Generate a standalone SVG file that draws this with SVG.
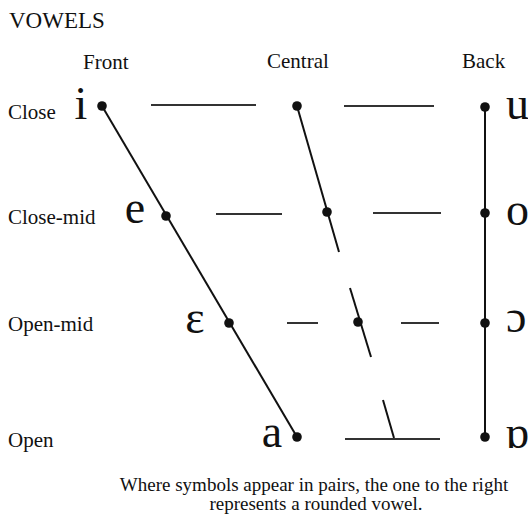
<svg xmlns="http://www.w3.org/2000/svg" width="528" height="517" viewBox="0 0 528 517">
<style>
text{font-family:"Liberation Serif","Times New Roman",serif;fill:#111}
.lbl{font-size:21px}
.sym{font-size:46px}
.note{font-size:19px}
.dot{fill:#111}
.link{stroke:#111;stroke-width:2;fill:none}
.hl{stroke:#333;stroke-width:2;fill:none}
</style>
<rect width="528" height="517" fill="#fff"/>
<text x="9" y="28" style="font-size:23px">VOWELS</text>
<g id="headers" class="lbl">
<text x="83" y="69" class="lbl">Front</text>
<text x="267" y="68" class="lbl">Central</text>
<text x="462" y="68" class="lbl">Back</text>
</g>
<g id="rows">
<text x="8" y="119" class="lbl">Close</text>
<text x="8" y="224" class="lbl">Close-mid</text>
<text x="8" y="331" class="lbl">Open-mid</text>
<text x="8" y="447" class="lbl">Open</text>
</g>
<g id="connectors">
<line class="link" x1="102" y1="106" x2="297" y2="437"/>
<line class="link" x1="297" y1="106" x2="339" y2="252"/>
<line class="link" x1="350" y1="288" x2="371" y2="357"/>
<line class="link" x1="383" y1="400" x2="394" y2="438"/>
<line class="link" x1="485" y1="106" x2="485" y2="437"/>
<line class="hl" x1="151" y1="105" x2="256" y2="105"/>
<line class="hl" x1="344" y1="106" x2="434" y2="106"/>
<line class="hl" x1="216" y1="214" x2="282" y2="214"/>
<line class="hl" x1="373" y1="213" x2="441" y2="213"/>
<line class="hl" x1="287" y1="323" x2="318" y2="323"/>
<line class="hl" x1="401" y1="323" x2="439" y2="323"/>
<line class="hl" x1="345" y1="439" x2="440" y2="439"/>
</g>
<g id="v-i"><circle class="dot" cx="102" cy="106" r="4.8"/><text x="81" y="119" class="sym" text-anchor="middle">i</text></g>
<g id="v-central-close"><circle class="dot" cx="297" cy="106" r="4.8"/></g>
<g id="v-u"><circle class="dot" cx="485" cy="107" r="4.8"/><text x="506" y="119" class="sym">u</text></g>
<g id="v-e"><circle class="dot" cx="166" cy="216" r="4.8"/><text x="135" y="223" class="sym" text-anchor="middle">e</text></g>
<g id="v-central-closemid"><circle class="dot" cx="327" cy="212" r="4.8"/></g>
<g id="v-o"><circle class="dot" cx="485" cy="213" r="4.8"/><text x="506" y="225" class="sym">o</text></g>
<g id="v-epsilon"><circle class="dot" cx="229" cy="323" r="4.8"/><text x="195" y="333" class="sym" text-anchor="middle">ɛ</text></g>
<g id="v-central-openmid"><circle class="dot" cx="358" cy="322" r="4.8"/></g>
<g id="v-openo"><circle class="dot" cx="485" cy="323" r="4.8"/><text x="506" y="332" class="sym">ɔ</text></g>
<g id="v-a"><circle class="dot" cx="297" cy="437" r="4.8"/><text x="272" y="447" class="sym" text-anchor="middle">a</text></g>
<g id="v-turneda"><circle class="dot" cx="485" cy="437" r="4.8"/><text x="505" y="448" class="sym">ɒ</text></g>
<g id="note">
<text x="314" y="491" class="note" text-anchor="middle">Where symbols appear in pairs, the one to the right</text>
<text x="316" y="510" class="note" text-anchor="middle">represents a rounded vowel.</text>
</g>
</svg>
